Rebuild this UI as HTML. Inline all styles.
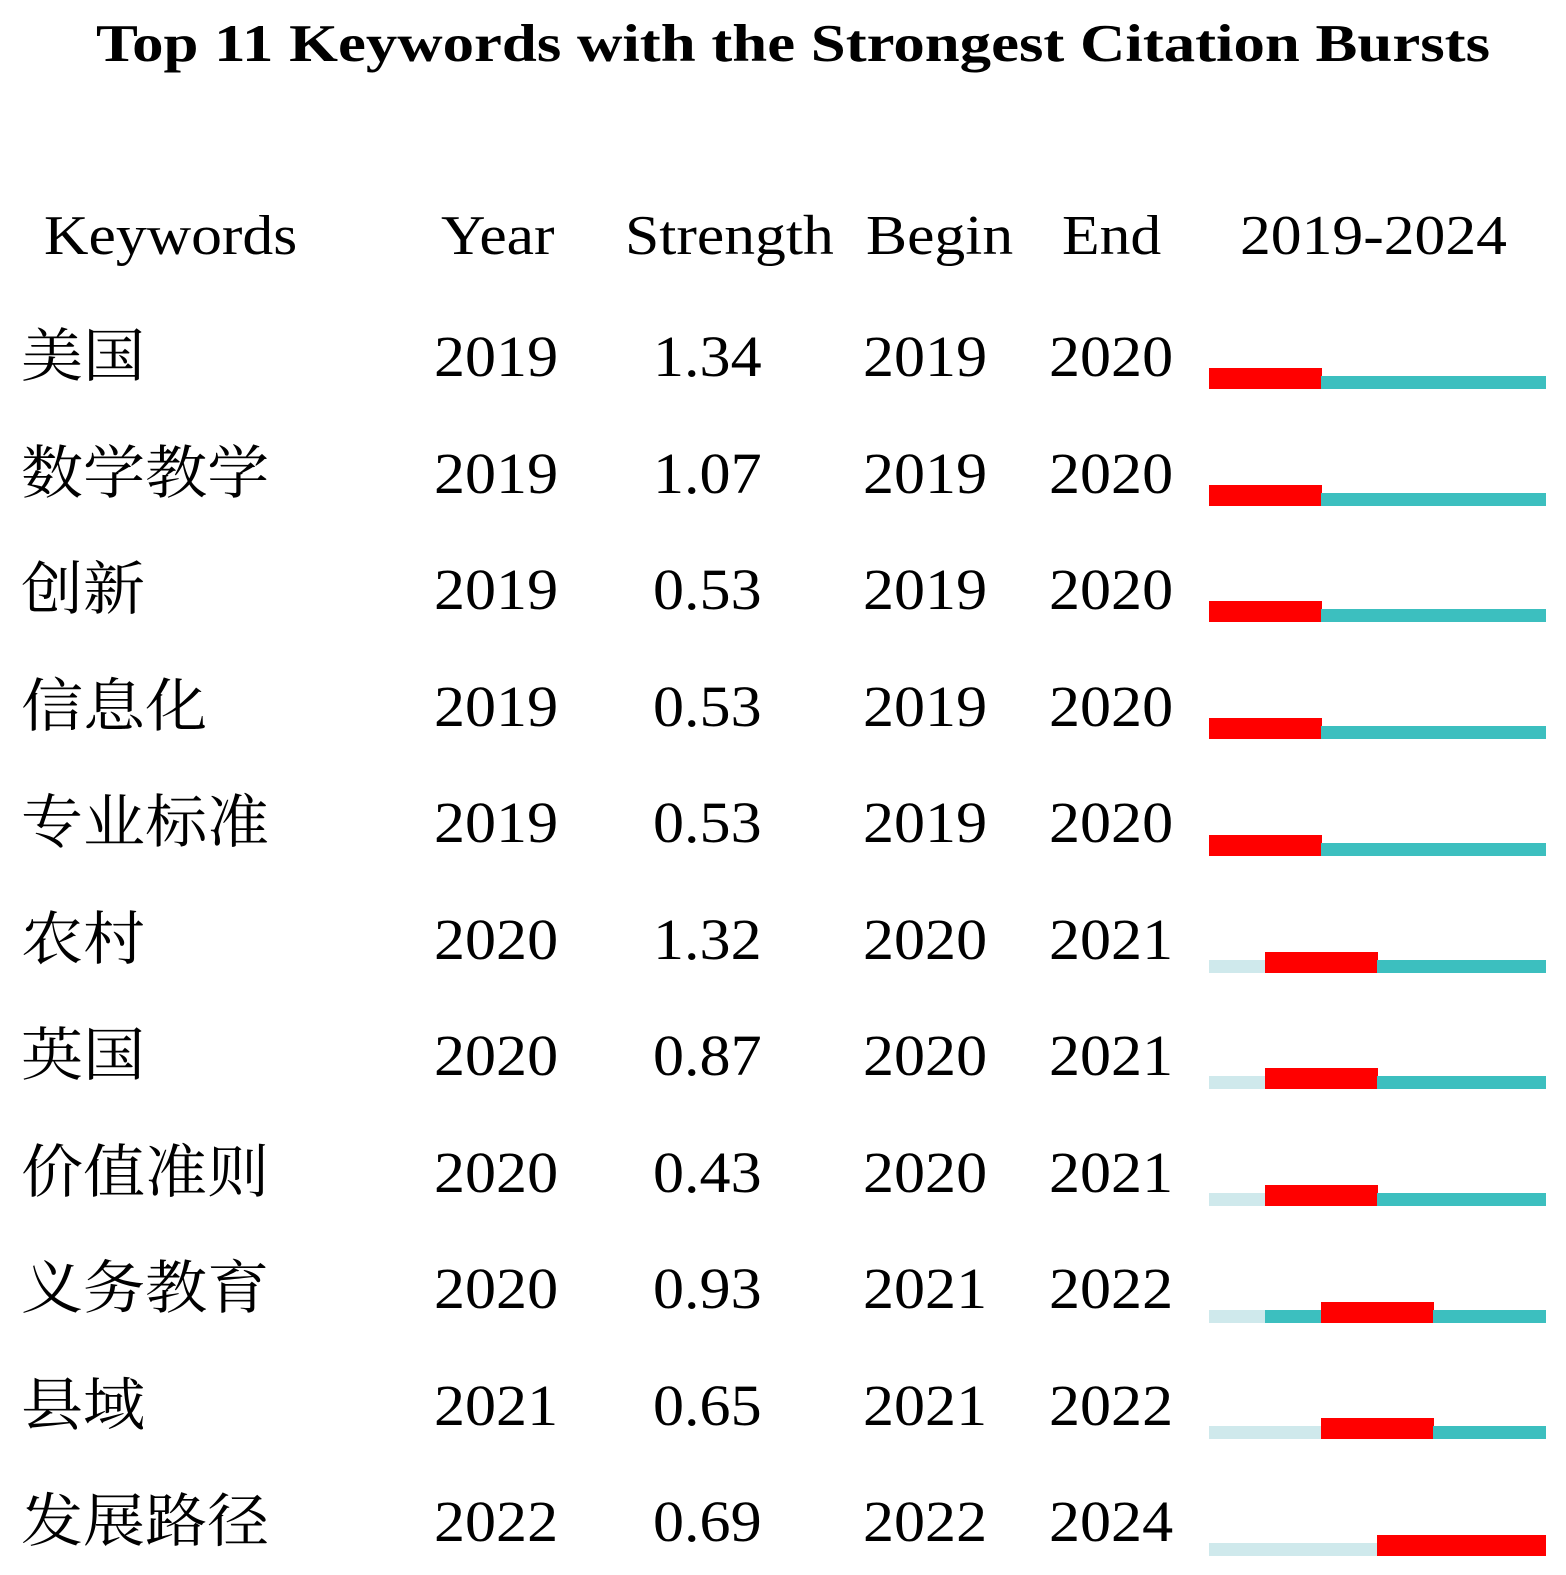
<!DOCTYPE html>
<html><head><meta charset="utf-8"><style>
body{margin:0;width:1566px;height:1575px;background:#fff;position:relative;overflow:hidden;font-family:"Liberation Serif","Noto Serif CJK SC",serif;color:#000}
.t{position:absolute;white-space:nowrap;line-height:1;transform-origin:0 50%}
.title{font-weight:bold;font-size:53px;left:0;width:1586px;text-align:center;top:18px;transform:scaleX(1.185);transform-origin:50% 50%}
.h{font-size:56px;top:208px;transform:scaleX(1.1)}
.r{font-size:58px;transform:scaleX(1.07)}
.b{position:absolute}
</style></head><body>
<div class="t title">Top 11 Keywords with the Strongest Citation Bursts</div>
<div class="t h" style="left:44px">Keywords</div>
<div class="t h" style="left:441px">Year</div>
<div class="t h" style="left:625px">Strength</div>
<div class="t h" style="left:866px">Begin</div>
<div class="t h" style="left:1062px">End</div>
<div class="t h" style="left:1240px">2019-2024</div>
<div id="rows"></div>
<script>
const d=[["美国","2019","1.34","2019","2020"],["数学教学","2019","1.07","2019","2020"],["创新","2019","0.53","2019","2020"],["信息化","2019","0.53","2019","2020"],["专业标准","2019","0.53","2019","2020"],["农村","2020","1.32","2020","2021"],["英国","2020","0.87","2020","2021"],["价值准则","2020","0.43","2020","2021"],["义务教育","2020","0.93","2021","2022"],["县域","2021","0.65","2021","2022"],["发展路径","2022","0.69","2022","2024"]];
let h="";
d.forEach((r,i)=>{
 const top=328+i*116.5, bot=389+i*116.7;
 const xs=[21,434,653,863,1049];
 r.forEach((v,j)=>{h+=`<div class="t r" style="left:${xs[j]}px;top:${top}px">${v}</div>`});
 const y0=+r[1]-2019,b=+r[3]-2019,e=+r[4]-2019;
 for(let k=0;k<6;k++){
  const x=1209+k*56;
  if(k>=b&&k<=e){h+=`<div class="b" style="left:${x}px;width:56.5px;top:${bot-21}px;height:21px;background:#f00"></div>`}
  else{const c=k<y0?"#cfe9ec":"#3cbfbf";h+=`<div class="b" style="left:${x}px;width:56.5px;top:${bot-13}px;height:13px;background:${c}"></div>`}
 }
});
document.getElementById("rows").innerHTML=h;
</script>
</body></html>
